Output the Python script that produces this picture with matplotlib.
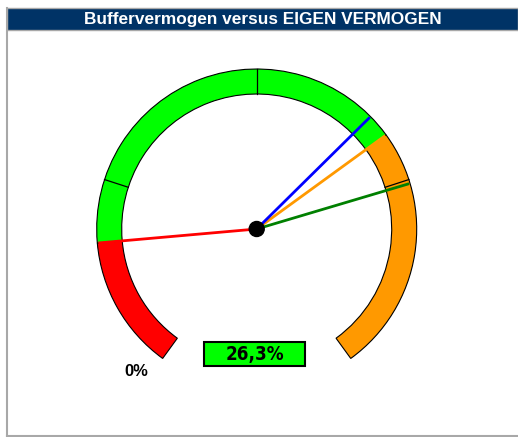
import matplotlib
matplotlib.use("Agg")
import matplotlib.pyplot as plt
from matplotlib import font_manager
from matplotlib.patches import Wedge, Rectangle, Circle
import numpy as np

# gauge data (percent)
title = "Buffervermogen versus EIGEN VERMOGEN"
scale_min, scale_max = 0, 40
zone_edges = [0, 6.8, 27.5, 40]
zone_colors = ["#FF0000", "#00FF00", "#FF9900"]
tick_values = [10, 20, 30]
needle_values = [6.8, 27.5, 26.3, 30.2]
needle_colors = ["#FF0000", "#FF9900", "#0000FF", "#008000"]
value_label = "26,3%"
min_label = "0%"

W, H = 518, 437
cx, cy = 256.7, H - 229
r_out, r_in = 160, 135
start_ang, span = 234, 288


def ang(v):
    return start_ang - span * (v - scale_min) / (scale_max - scale_min)


def pol(v, r):
    a = np.deg2rad(ang(v))
    return cx + r * np.cos(a), cy + r * np.sin(a)


# narrow font for the value box, if one is around
names = {f.name for f in font_manager.fontManager.ttflist}
narrow = [n for n in ["Liberation Sans Narrow", "DejaVu Sans Condensed"] if n in names]

fig = plt.figure(figsize=(W / 100, H / 100), dpi=100)
ax = fig.add_axes([0, 0, 1, 1])
ax.set_xlim(0, W)
ax.set_ylim(0, H)
ax.axis("off")

# frame and title bar
ax.plot([6.5, 6.5], [H - 8, H - 436], color="#a8a8a8", lw=1.5)
ax.plot([6.5, W], [H - 436, H - 436], color="#a8a8a8", lw=1.5)
ax.add_patch(Rectangle((7, H - 30), W - 7, 22, facecolor="#003366",
                       edgecolor="#a8a8a8", lw=1))
ax.text(263, H - 19.5, title, color="white", fontsize=12.4, fontweight="bold",
        family="Liberation Sans", ha="center", va="center")

# gauge band
for lo, hi, c in zip(zone_edges[:-1], zone_edges[1:], zone_colors):
    ax.add_patch(Wedge((cx, cy), r_out, ang(hi), ang(lo), width=r_out - r_in,
                       facecolor=c, edgecolor="black", lw=0.8, zorder=2))
for t in tick_values:
    x0, y0 = pol(t, r_in)
    x1, y1 = pol(t, r_out)
    ax.plot([x0, x1], [y0, y1], color="black", lw=0.9, zorder=3)

# needles
for v, c in zip(needle_values, needle_colors):
    x1, y1 = pol(v, r_out - 1)
    ax.plot([cx, x1], [cy, y1], color=c, lw=2, zorder=4, solid_capstyle="butt")
ax.add_patch(Circle((cx, cy), 7.5, color="black", zorder=5))

# labels
ax.text(136, H - 372, min_label, fontsize=12, fontweight="bold",
        family="Liberation Sans", ha="center", va="center")
ax.add_patch(Rectangle((204, H - 366), 101, 24, facecolor="#00FF00",
                       edgecolor="black", lw=1.5, zorder=2))
ax.text(255, H - 354.5, value_label, fontsize=13.5, fontweight="bold",
        family=narrow + ["DejaVu Sans"], fontstretch="condensed",
        ha="center", va="center", zorder=3)

fig.savefig("out.png", dpi=100)
